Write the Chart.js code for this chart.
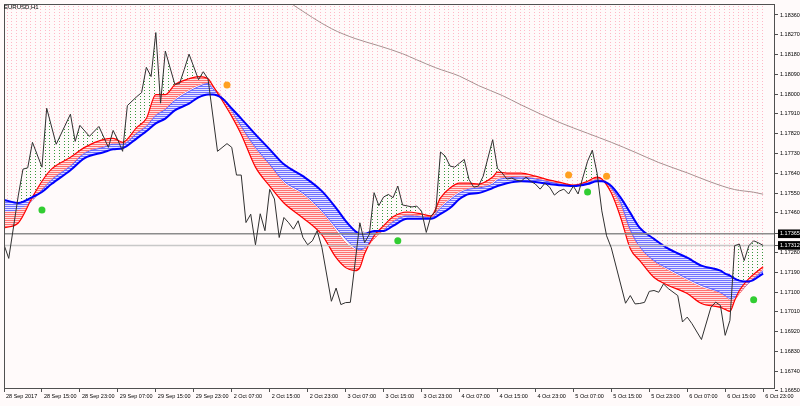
<!DOCTYPE html>
<html>
<head>
<meta charset="utf-8">
<title>EURUSD,H1</title>
<script src="https://cdn.jsdelivr.net/npm/chart.js@4.4.1/dist/chart.umd.min.js"></script>
<style>
  html, body { margin: 0; padding: 0; background: #fffafa; }
  #wrap { position: relative; width: 800px; height: 406px; }
  #title { position: absolute; left: 4px; top: 4px; font: 6px "Liberation Sans", Arial, sans-serif; color: #000; }
</style>
</head>
<body>
<div id="wrap">
  <canvas id="chart" width="800" height="406"></canvas>
  <div id="title">EURUSD,H1</div>
</div>
<script>
// Bars are hourly, counted from 28 Sep 07:00
const timeLabels = ['28 Sep 2017', '28 Sep 15:00', '28 Sep 23:00', '29 Sep 07:00', '29 Sep 15:00', '29 Sep 23:00',
    '2 Oct 07:00', '2 Oct 15:00', '2 Oct 23:00', '3 Oct 07:00', '3 Oct 15:00', '3 Oct 23:00',
    '4 Oct 07:00', '4 Oct 15:00', '4 Oct 23:00', '5 Oct 07:00', '5 Oct 15:00', '5 Oct 23:00',
    '6 Oct 07:00', '6 Oct 15:00', '6 Oct 23:00'];
const priceTicks = [1.18360, 1.18270, 1.18180, 1.18090, 1.18000, 1.17910, 1.17820, 1.17730, 1.17640, 1.17550,
    1.17460, 1.17280, 1.17190, 1.17100, 1.17010, 1.16920, 1.16830, 1.16740, 1.16650];
const levels = [1.17365, 1.17312];

// close price (turning points of the line)
const priceBars = [0, 1, 3, 4, 5, 6, 8, 9, 11, 14,
    15, 16, 18, 20, 22, 23, 24, 25, 26, 28,
    29, 30, 31, 32, 33, 34, 36, 37, 38, 39,
    41, 42, 43, 45, 47, 48, 49, 50, 51, 52,
    53, 54, 55, 56, 57, 58, 59, 60, 61, 62,
    63, 64, 65, 66, 67, 69, 70, 71, 72, 73,
    75, 76, 77, 78, 79, 80, 81, 82, 83, 84,
    86, 87, 88, 89, 90, 91, 92, 93, 94, 95,
    96, 97, 98, 99, 100, 101, 103, 104, 105, 106,
    107, 108, 109, 110, 111, 112, 113, 114, 115, 116,
    117, 118, 119, 120, 121, 123, 124, 125, 126, 127,
    128, 131, 132, 133, 134, 135, 136, 137, 138, 139,
    140, 142, 143, 144, 145, 147, 149, 150, 151, 152,
    153, 154, 155, 156, 157, 158, 159, 160];
const priceClose = [1.17315, 1.17253, 1.17537, 1.17659, 1.17665, 1.17781, 1.17668, 1.17936, 1.17772, 1.17909,
    1.17785, 1.17858, 1.17808, 1.17853, 1.17758, 1.17835, 1.17791, 1.17740, 1.17948, 1.17989,
    1.18007, 1.18122, 1.18080, 1.18280, 1.17959, 1.18196, 1.18045, 1.18048, 1.18113, 1.18182,
    1.18066, 1.18102, 1.18069, 1.17740, 1.17775, 1.17758, 1.17632, 1.17632, 1.17416, 1.17454,
    1.17315, 1.17456, 1.17379, 1.17567, 1.17523, 1.17348, 1.17439, 1.17415, 1.17386, 1.17424,
    1.17348, 1.17315, 1.17333, 1.17379, 1.17303, 1.17058, 1.17118, 1.17043, 1.17052, 1.17053,
    1.17415, 1.17325, 1.17362, 1.17552, 1.17493, 1.17532, 1.17544, 1.17529, 1.17582, 1.17496,
    1.17487, 1.17491, 1.17468, 1.17371, 1.17446, 1.17468, 1.17737, 1.17718, 1.17673, 1.17668,
    1.17686, 1.17703, 1.17612, 1.17577, 1.17582, 1.17627, 1.17793, 1.17663, 1.17641, 1.17614,
    1.17618, 1.17609, 1.17604, 1.17623, 1.17604, 1.17591, 1.17568, 1.17595, 1.17577, 1.17541,
    1.17559, 1.17568, 1.17546, 1.17582, 1.17546, 1.17695, 1.17745, 1.17641, 1.17469, 1.17356,
    1.17301, 1.17049, 1.17084, 1.17046, 1.17048, 1.17053, 1.17103, 1.17107, 1.17099, 1.17137,
    1.17116, 1.17084, 1.16964, 1.16986, 1.16956, 1.16884, 1.17031, 1.17054, 1.17039, 1.16903,
    1.16971, 1.17311, 1.17318, 1.17243, 1.17311, 1.17333, 1.17324, 1.17312];

// moving average ribbon, four edges
const ribbonBars = [0, 3, 6, 8, 10, 14, 17, 21, 23, 25,
    28, 30, 32, 34, 36, 39, 41, 43, 44, 46,
    48, 50, 53, 56, 59, 63, 67, 70, 72, 74,
    75, 76, 78, 80, 82, 85, 88, 90, 92, 94,
    96, 98, 100, 103, 104, 106, 109, 112, 115, 117,
    120, 123, 125, 126, 128, 130, 132, 134, 137, 140,
    144, 147, 151, 152, 153, 154, 155, 157, 160];
const fastRed = [1.17392, 1.17414, 1.17532, 1.17604, 1.17659, 1.17713, 1.17758, 1.17794, 1.17799, 1.17781,
    1.17849, 1.17889, 1.17998, 1.17998, 1.18043, 1.18070, 1.18080, 1.18070, 1.18039, 1.17971,
    1.17899, 1.17817, 1.17668, 1.17582, 1.17505, 1.17437, 1.17360, 1.17256, 1.17211, 1.17197,
    1.17211, 1.17274, 1.17356, 1.17401, 1.17442, 1.17464, 1.17455, 1.17446, 1.17528, 1.17573,
    1.17595, 1.17595, 1.17591, 1.17623, 1.17645, 1.17641, 1.17641, 1.17627, 1.17609, 1.17600,
    1.17586, 1.17604, 1.17623, 1.17614, 1.17550, 1.17437, 1.17297, 1.17243, 1.17166, 1.17130,
    1.17093, 1.17048, 1.17030, 1.17021, 1.17012, 1.17062, 1.17107, 1.17161, 1.17215];
const slowRed = [1.17464, 1.17473, 1.17519, 1.17568, 1.17614, 1.17677, 1.17736, 1.17763, 1.17776, 1.17776,
    1.17826, 1.17858, 1.17908, 1.17935, 1.17980, 1.18021, 1.18043, 1.18052, 1.18034, 1.17985,
    1.17921, 1.17849, 1.17749, 1.17677, 1.17595, 1.17541, 1.17460, 1.17378, 1.17324, 1.17292,
    1.17288, 1.17297, 1.17342, 1.17383, 1.17424, 1.17451, 1.17446, 1.17442, 1.17491, 1.17528,
    1.17559, 1.17573, 1.17577, 1.17600, 1.17618, 1.17623, 1.17627, 1.17618, 1.17604, 1.17595,
    1.17586, 1.17600, 1.17614, 1.17609, 1.17568, 1.17491, 1.17374, 1.17301, 1.17238, 1.17197,
    1.17152, 1.17120, 1.17093, 1.17080, 1.17062, 1.17066, 1.17093, 1.17143, 1.17206];
const fastBlue = [1.17455, 1.17464, 1.17519, 1.17564, 1.17609, 1.17672, 1.17731, 1.17758, 1.17772, 1.17772,
    1.17822, 1.17853, 1.17903, 1.17930, 1.17971, 1.18012, 1.18034, 1.18048, 1.18025, 1.17985,
    1.17921, 1.17853, 1.17758, 1.17681, 1.17604, 1.17550, 1.17469, 1.17392, 1.17342, 1.17301,
    1.17292, 1.17301, 1.17351, 1.17383, 1.17419, 1.17446, 1.17442, 1.17437, 1.17482, 1.17519,
    1.17550, 1.17568, 1.17573, 1.17591, 1.17609, 1.17618, 1.17623, 1.17614, 1.17600, 1.17591,
    1.17582, 1.17595, 1.17609, 1.17609, 1.17573, 1.17505, 1.17383, 1.17306, 1.17243, 1.17206,
    1.17161, 1.17130, 1.17098, 1.17084, 1.17071, 1.17075, 1.17098, 1.17143, 1.17197];
const slowBlue = [1.17519, 1.17505, 1.17532, 1.17555, 1.17591, 1.17654, 1.17709, 1.17736, 1.17749, 1.17754,
    1.17799, 1.17831, 1.17867, 1.17889, 1.17926, 1.17957, 1.17985, 1.17998, 1.17998, 1.17980,
    1.17935, 1.17889, 1.17817, 1.17749, 1.17681, 1.17627, 1.17559, 1.17482, 1.17424, 1.17378,
    1.17365, 1.17365, 1.17378, 1.17378, 1.17401, 1.17433, 1.17433, 1.17433, 1.17455, 1.17482,
    1.17523, 1.17546, 1.17550, 1.17573, 1.17582, 1.17595, 1.17604, 1.17600, 1.17591, 1.17586,
    1.17582, 1.17591, 1.17604, 1.17604, 1.17582, 1.17528, 1.17460, 1.17392, 1.17342, 1.17297,
    1.17256, 1.17220, 1.17197, 1.17184, 1.17175, 1.17161, 1.17152, 1.17148, 1.17184];

// long moving average (enters the chart from the top)
const maBars = [57, 61, 69, 74, 79, 84, 87, 91, 96, 100, 105, 109, 117, 123, 128, 133, 138, 144, 149, 154, 158, 160];
const maValues = [1.18464, 1.18405, 1.18298, 1.18253, 1.18220, 1.18184, 1.18156, 1.18120, 1.18082, 1.18039, 1.17994,
    1.17951, 1.17872, 1.17822, 1.17781, 1.17736, 1.17689, 1.17642, 1.17600, 1.17566, 1.17554, 1.17545];

// signal dots
const sellBars = [47, 119, 127];
const sellMarks = [1.18042, 1.17632, 1.17627];
const buyBars = [8, 83, 123, 158];
const buyMarks = [1.17473, 1.17333, 1.17555, 1.17065];

const xMax = 162.5;
const yMin = 1.16659, yMax = 1.18410;
const bg = '#fffafa';
const font = '"Liberation Sans", Arial, sans-serif';

function pts(xs, ys) {
    return xs.map((x, i) => ({ x: x, y: ys[i] }));
}

function makePattern(w, h, paint) {
    const c = document.createElement('canvas');
    c.width = w; c.height = h;
    const g = c.getContext('2d');
    paint(g);
    return g.createPattern(c, 'repeat');
}

// one dotted column per bar: 4 bars = 19 px
const cols = [2, 7, 11, 16];
const pinkDots = makePattern(19, 3, g => {
    g.fillStyle = '#ffb8c6';
    cols.forEach(x => g.fillRect(x, 0, 1, 1));
});
const greenDots = makePattern(19, 3, g => {
    g.fillStyle = bg; g.fillRect(0, 0, 19, 3);
    g.fillStyle = '#3a963a';
    cols.forEach(x => g.fillRect(x, 0, 1, 1));
});
const redLines = makePattern(1, 2, g => {
    g.fillStyle = '#ffe2e2'; g.fillRect(0, 0, 1, 2);
    g.fillStyle = '#ff7272'; g.fillRect(0, 0, 1, 1);
});
const blueLines = makePattern(1, 2, g => {
    g.fillStyle = '#e4e4ff'; g.fillRect(0, 0, 1, 2);
    g.fillStyle = '#7272ff'; g.fillRect(0, 0, 1, 1);
});

const frame = {
    id: 'frame',
    afterDatasetsDraw(chart) {
        const { ctx, chartArea: a } = chart;
        ctx.save();
        ctx.strokeStyle = '#505050';
        ctx.lineWidth = 1;
        ctx.strokeRect(a.left + 0.5, a.top + 0.5, a.right - a.left - 1, a.bottom - a.top - 1);
        ctx.restore();
    }
};

const smooth = { cubicInterpolationMode: 'monotone', pointRadius: 0 };

const ctx = document.getElementById('chart').getContext('2d');
new Chart(ctx, {
    type: 'line',
    data: {
        datasets: [
            // 0, 1: signal dots
            { data: pts(sellBars, sellMarks), showLine: false, pointRadius: 3.5, pointBackgroundColor: '#ffa020', pointBorderWidth: 0, order: 0 },
            { data: pts(buyBars, buyMarks), showLine: false, pointRadius: 3.5, pointBackgroundColor: '#32cd32', pointBorderWidth: 0, order: 0 },
            // 2: price
            { data: pts(priceBars, priceClose), borderColor: '#303030', borderWidth: 1, pointRadius: 0, order: 1 },
            // 3, 4: horizontal levels
            { data: [{ x: 0, y: levels[0] }, { x: xMax, y: levels[0] }], borderColor: '#8c8c8c', borderWidth: 1.5, pointRadius: 0, order: 2 },
            { data: [{ x: 0, y: levels[1] }, { x: xMax, y: levels[1] }], borderColor: '#c8c8c8', borderWidth: 1.5, pointRadius: 0, order: 2 },
            // 5: slowest blue (thick)
            { data: pts(ribbonBars, slowBlue), borderColor: '#0000ff', borderWidth: 2, ...smooth, order: 3 },
            // 6: fastest red + red band
            { data: pts(ribbonBars, fastRed), borderColor: '#ff0000', borderWidth: 1.2, ...smooth, order: 4,
              fill: { target: 7, above: redLines, below: redLines } },
            // 7: slow red edge + gap between bands
            { data: pts(ribbonBars, slowRed), borderColor: '#ff5a5a', borderWidth: 1, ...smooth, order: 6,
              fill: { target: 8, above: bg, below: bg } },
            // 8: fast blue edge + blue band
            { data: pts(ribbonBars, fastBlue), borderColor: '#5a5aff', borderWidth: 1, ...smooth, order: 5,
              fill: { target: 5, above: blueLines, below: blueLines } },
            // 9: long moving average
            { data: pts(maBars, maValues), borderColor: '#a89090', borderWidth: 1, ...smooth, order: 7 },
            // 10: green histogram, price above the fast line
            { data: pts(priceBars, priceClose), borderColor: 'rgba(0,0,0,0)', borderWidth: 1, pointRadius: 0, order: 8,
              fill: { target: 6, above: greenDots, below: 'rgba(0,0,0,0)' } },
            // 11: pink histogram up to the top
            { data: pts(ribbonBars, fastRed), borderColor: 'rgba(0,0,0,0)', borderWidth: 1, ...smooth, order: 9,
              fill: 'end', backgroundColor: pinkDots }
        ]
    },
    options: {
        responsive: false,
        animation: false,
        layout: { padding: { left: 2, top: 2, right: 0, bottom: 0 } },
        plugins: { legend: { display: false }, tooltip: { enabled: false } },
        scales: {
            x: {
                type: 'linear', position: 'bottom', min: 0, max: xMax,
                afterBuildTicks: s => { s.ticks = timeLabels.map((_, k) => ({ value: k * 8 })); },
                afterFit: s => { s.height = 17; s.paddingLeft = 0; s.paddingRight = 0; },
                grid: { display: true, drawOnChartArea: false, drawTicks: true, tickLength: 3, color: '#505050' },
                border: { display: false },
                ticks: {
                    autoSkip: false, maxRotation: 0, minRotation: 0, align: 'start', labelOffset: 2, padding: 1,
                    color: '#000', font: { family: font, size: 5.5 },
                    callback: (v, i) => timeLabels[i]
                }
            },
            y: {
                type: 'linear', position: 'right', min: yMin, max: yMax,
                afterBuildTicks: s => {
                    s.ticks = priceTicks.concat(levels).sort((a, b) => b - a).map(v => ({ value: v }));
                },
                afterFit: s => { s.width = 25; s.paddingTop = 0; s.paddingBottom = 0; },
                grid: { display: true, drawOnChartArea: false, drawTicks: true, tickLength: 3, color: '#505050' },
                border: { display: false },
                ticks: {
                    autoSkip: false, padding: 2,
                    font: { family: font, size: 5.5 },
                    color: c => levels.includes(c.tick.value) ? '#fff' : '#000',
                    showLabelBackdrop: true,
                    backdropColor: c => levels.includes(c.tick.value) ? '#000' : 'rgba(0,0,0,0)',
                    backdropPadding: { left: 2, right: 2, top: 1, bottom: 1 },
                    callback: v => v.toFixed(5)
                }
            }
        }
    },
    plugins: [frame]
});
</script>
</body>
</html>
